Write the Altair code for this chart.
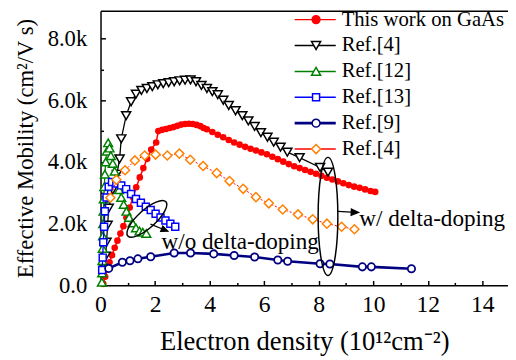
import altair as alt
import pandas as pd

FONT = "Liberation Serif, Times New Roman, Times, serif"

# ---------------- data (x: 10^12 cm^-2, y: cm^2/Vs) ----------------
series_names = ["This work on GaAs", "Ref.[4]", "Ref.[12]", "Ref.[13]", "Ref.[9]", "Ref.[4] "]

red_x = [0.10, 0.17, 0.25, 0.33, 0.42, 0.52, 0.62, 0.73, 0.84, 0.95, 1.07, 1.19, 1.31, 1.44, 1.57, 1.71, 1.86, 2.04,
         2.12, 2.26, 2.40, 2.54, 2.68, 2.82, 2.96, 3.10, 3.24, 3.38, 3.52, 3.66, 3.78,
         3.90, 4.10, 4.30, 4.50, 4.70, 4.90, 5.10, 5.30, 5.50, 5.70, 5.90, 6.10, 6.30, 6.50, 6.70, 6.90,
         7.10, 7.30, 7.50, 7.70, 7.90, 8.10, 8.30, 8.50, 8.70, 8.90, 9.10, 9.30, 9.50, 9.70, 9.90, 10.07]
red_y = [50, 280, 520, 750, 980, 1220, 1450, 1680, 1920, 2200, 2520, 2860, 3180, 3500, 3800, 4100, 4400, 4630,
         5000, 5040, 5070, 5100, 5130, 5170, 5210, 5230, 5240, 5230, 5200, 5160, 5100,
         5060, 4970, 4880, 4800, 4710, 4630, 4560, 4490, 4430, 4370, 4310, 4250, 4170, 4090, 4010, 3930,
         3860, 3800, 3740, 3680, 3620, 3550, 3490, 3430, 3370, 3310, 3250, 3200, 3160, 3110, 3060, 3030]

black_x = [0.15, 0.19, 0.22, 0.26, 0.30, 0.45, 0.60, 0.70, 0.76, 0.94, 1.12, 1.30, 1.50, 1.70, 1.90, 2.10,
           2.30, 2.50, 2.70, 2.90, 3.10, 3.30, 3.50, 3.70, 3.90, 4.10, 4.30, 4.50, 4.70, 4.95, 5.20, 5.42,
           5.65, 5.88, 6.12, 6.35, 6.60, 6.85, 7.30, 8.05, 8.34]
black_y = [500, 950, 1400, 1950, 2500, 3100, 3600, 4100, 4750, 5500, 5950, 6200, 6320, 6380, 6440, 6500,
           6540, 6570, 6600, 6630, 6650, 6660, 6600, 6480, 6380, 6280, 6180, 6000, 5830, 5660, 5500, 5330,
           5150, 4950, 4800, 4640, 4480, 4320, 4140, 3820, 3670]

green_x = [0.05, 0.06, 0.07, 0.08, 0.09, 0.10, 0.11, 0.12, 0.14, 0.16, 0.19, 0.23, 0.28, 0.33, 0.38, 0.45,
           0.52, 0.60, 0.68, 0.76, 0.85, 0.95, 1.05, 1.17, 1.30, 1.43, 1.55, 1.68]
green_y = [100, 400, 800, 1200, 1600, 2000, 2400, 2800, 3200, 3600, 4000, 4350, 4620, 4450, 4200, 3950,
           3700, 3400, 3100, 2850, 2620, 2400, 2200, 2020, 1860, 1760, 1720, 1680]

blue_x = [0.06, 0.08, 0.10, 0.13, 0.16, 0.22, 0.30, 0.42, 0.58, 0.76, 0.94, 1.12, 1.30, 1.48, 1.66, 1.84,
          2.02, 2.20, 2.38, 2.56, 2.74]
blue_y = [500, 900, 1400, 1900, 2400, 2850, 3200, 3350, 3300, 3240, 3120, 2960, 2800, 2680, 2550, 2440,
          2320, 2200, 2100, 2000, 1900]

navy_x = [0.30, 0.80, 1.08, 1.37, 1.84, 2.70, 3.30, 4.15, 4.90, 5.65, 6.50, 6.86, 8.05, 8.41, 9.60, 9.93, 11.40]
navy_y = [550, 750, 800, 860, 930, 1050, 1050, 1020, 970, 920, 820, 780, 700, 690, 600, 600, 540]

orange_x = [0.36, 0.58, 0.90, 1.26, 1.62, 2.02, 2.45, 2.89, 3.29, 3.76, 4.26, 4.73, 5.23, 5.70, 6.17, 6.68,
            7.24, 7.78, 8.30, 8.84, 9.31]
orange_y = [2840, 3420, 3730, 4050, 4210, 4240, 4210, 4270, 4070, 3870, 3640, 3380, 3130, 2860, 2660, 2460,
            2300, 2140, 2000, 1900, 1820]

x_major = [0, 2, 4, 6, 8, 10, 12, 14]
x_minor = [1, 3, 5, 7, 9, 11, 13]
y_major = [0, 2000, 4000, 6000, 8000]
y_minor = [1000, 3000, 5000, 7000]

# annotations (data coordinates)
ellipse_x = [1.70, 8.34]
ellipse_y = [2155, 2234]
arrow_x = [2.15, 9.08]
arrow_y = [1870, 2378]
note_text = ["w/o delta-doping", "w/ delta-doping"]
note_x = [2.24, 9.49]
note_y = [1400, 2160]

# ---------------- styling ----------------
W, H = 414, 279
RED, BLACK, GREEN, BLUE, NAVY, ORANGE = "#FF0000", "#000000", "#008000", "#0000FF", "#000080", "#FF8000"


def ell(rx, ry):
    k = 0.5523
    return (f"M{rx},0C{rx},{k*ry:.4f} {k*rx:.4f},{ry} 0,{ry}"
            f"C{-k*rx:.4f},{ry} {-rx},{k*ry:.4f} {-rx},0"
            f"C{-rx},{-k*ry:.4f} {-k*rx:.4f},{-ry} 0,{-ry}"
            f"C{k*rx:.4f},{-ry} {rx},{-k*ry:.4f} {rx},0Z")


xscale = alt.Scale(domain=[0, 14.94], nice=False, zero=False)
yscale = alt.Scale(domain=[0, 8900], nice=False, zero=False)

ax_x_bottom = alt.Axis(orient="bottom", values=x_major, format="d",
                       title="Electron density (10¹²cm⁻²)",
                       labelFont=FONT, labelFontSize=24, labelColor="black", labelPadding=8,
                       labelFlush=False, labelOverlap=False, ticks=False, tickSize=0,
                       domain=True, domainColor="black", domainWidth=1.5, grid=False,
                       titleFont=FONT, titleFontSize=27, titleFontWeight="normal", titleColor="black",
                       titleBaseline="alphabetic", titleY=65)
ax_x_major = alt.Axis(orient="top", offset=-H, values=x_major, labels=False, domain=False,
                      ticks=True, tickSize=5, tickWidth=1.5, tickColor="black", grid=False, title=None)
ax_x_minor = alt.Axis(orient="top", offset=-H, values=x_minor, labels=False, domain=False,
                      ticks=True, tickSize=3, tickWidth=1.5, tickColor="black", grid=False, title=None)
ax_x_frame = alt.Axis(orient="top", labels=False, ticks=False, domain=True, domainColor="black",
                      domainWidth=1.5, grid=False, title=None)

ax_y_left = alt.Axis(orient="left", values=y_major,
                     labelExpr="datum.value == 0 ? '0.0' : format(datum.value / 1000, '.1f') + 'k'",
                     labelFont=FONT, labelFontSize=23, labelColor="black", labelPadding=14,
                     labelFlush=False, labelOverlap=False, ticks=False, tickSize=0,
                     domain=True, domainColor="black", domainWidth=1.5, grid=False,
                     title="Effective Mobility (cm²/V s)", titleFont=FONT, titleFontSize=23,
                     titleFontWeight="normal", titleColor="black", titleAngle=270,
                     titleBaseline="alphabetic", titleAlign="center", titleX=-69, titleY=H / 2)
ax_y_major = alt.Axis(orient="right", offset=-W, values=y_major, labels=False, domain=False,
                      ticks=True, tickSize=5, tickWidth=1.5, tickColor="black", grid=False, title=None)
ax_y_minor = alt.Axis(orient="right", offset=-W, values=y_minor, labels=False, domain=False,
                      ticks=True, tickSize=3, tickWidth=1.5, tickColor="black", grid=False, title=None)


def pos(ch, xaxis=None, yaxis=None):
    return ch.encode(x=alt.X("x:Q", scale=xscale, axis=xaxis),
                     y=alt.Y("y:Q", scale=yscale, axis=yaxis))


def frame(xs, ys):
    return pd.DataFrame({"x": xs, "y": ys})


red_df = frame(red_x, red_y)
black_df = frame(black_x, black_y)
green_df = frame(green_x, green_y)
blue_df = frame(blue_x, blue_y)
navy_df = frame(navy_x, navy_y)
orange_df = frame(orange_x, orange_y)

layers = [
    pos(alt.Chart(red_df).mark_line(color=RED, strokeWidth=1.5), ax_x_bottom, ax_y_left),
    pos(alt.Chart(red_df).mark_point(shape="circle", size=45, filled=True, color=RED, opacity=1),
        ax_x_major, ax_y_major),
    pos(alt.Chart(black_df).mark_line(color=BLACK, strokeWidth=1.3), ax_x_minor, ax_y_minor),
    pos(alt.Chart(black_df).mark_point(shape="triangle-down", size=85, filled=True, fill="white",
                                       stroke=BLACK, strokeWidth=1.5, opacity=1), ax_x_frame),
    pos(alt.Chart(green_df).mark_line(color=GREEN, strokeWidth=1.3)),
    pos(alt.Chart(green_df).mark_point(shape="triangle-up", size=80, filled=True, fill="white",
                                       stroke=GREEN, strokeWidth=1.5, opacity=1)),
    pos(alt.Chart(blue_df).mark_line(color=BLUE, strokeWidth=1.3)),
    pos(alt.Chart(blue_df).mark_point(shape="square", size=50, filled=True, fill="white",
                                      stroke=BLUE, strokeWidth=1.5, opacity=1)),
    pos(alt.Chart(navy_df).mark_line(color=NAVY, strokeWidth=2.6)),
    pos(alt.Chart(navy_df).mark_point(shape="circle", size=55, filled=True, fill="white",
                                      stroke=NAVY, strokeWidth=1.8, opacity=1)),
    pos(alt.Chart(orange_df).mark_line(color=RED, strokeWidth=1, strokeDash=[2, 2])),
    pos(alt.Chart(orange_df).mark_point(shape="diamond", size=85, filled=True, fill="white",
                                        stroke=ORANGE, strokeWidth=1.5, opacity=1)),
]

# annotations: ellipses, arrows, texts
ell_shapes = [ell(1, 0.35), ell(1, 0.167)]
ell_sizes = [2704, 14400]
ell_angles = [318, 90]
for i in range(2):
    layers.append(pos(alt.Chart(frame([ellipse_x[i]], [ellipse_y[i]])).mark_point(
        shape=ell_shapes[i], size=ell_sizes[i], angle=ell_angles[i], filled=False,
        stroke="black", strokeWidth=1.5, opacity=1)))

arrow_path = "M-1,0L0.3,0M0.3,-0.3L1,0L0.3,0.3Z"
arrow_sizes = [361, 441]
arrow_angles = [22, 3]
for i in range(2):
    layers.append(pos(alt.Chart(frame([arrow_x[i]], [arrow_y[i]])).mark_point(
        shape=arrow_path, size=arrow_sizes[i], angle=arrow_angles[i], filled=True,
        fill="black", stroke="black", strokeWidth=1.3, opacity=1)))

notes_df = pd.DataFrame({"x": note_x, "y": note_y, "t": note_text})
layers.append(pos(alt.Chart(notes_df).mark_text(align="left", baseline="middle", font=FONT,
                                                fontSize=23.5, color="black")).encode(text="t:N"))

# legend (built by Vega legends from scales; the legend layers draw no marks)
legend_df = pd.DataFrame({"s": series_names})
line_paths = ["M-1,-0.036H1V0.036H-1Z"] * 4 + ["M-1,-0.068H1V0.068H-1Z", "M-1,-0.036H1V0.036H-1Z"]
line_colors = [RED, BLACK, GREEN, BLUE, NAVY, RED]
marker_paths = [
    ell(0.19, 0.19),
    "M-0.22,-0.19L0.22,-0.19L0,0.19Z",
    "M-0.22,0.19L0.22,0.19L0,-0.19Z",
    "M-0.17,-0.17H0.17V0.17H-0.17Z",
    ell(0.19, 0.19),
    "M0,-0.22L0.22,0L0,0.22L-0.22,0Z",
]
marker_strokes = [RED, BLACK, GREEN, BLUE, NAVY, ORANGE]
marker_fills = [RED, "white", "white", "white", "white", "white"]

leg_common = dict(orient="none", legendX=197, legendY=-2, title=None, labelFont=FONT,
                  labelFontSize=21, labelColor="black", labelLimit=400, symbolSize=1764,
                  clipHeight=22, rowPadding=4.3, padding=0, labelOffset=4, symbolOffset=0)
lines_leg = alt.Legend(labelExpr="''", symbolStrokeWidth=0, **leg_common)
marks_leg = alt.Legend(symbolStrokeWidth=1.5, **leg_common)

legend_lines = alt.Chart(legend_df).transform_filter("false").mark_point(
    filled=True, opacity=1, strokeWidth=0).encode(
    shape=alt.Shape("s:N", scale=alt.Scale(domain=series_names, range=line_paths), legend=lines_leg),
    fill=alt.Fill("s:N", scale=alt.Scale(domain=series_names, range=line_colors), legend=lines_leg),
)
legend_marks = alt.Chart(legend_df).transform_filter("false").mark_point(
    filled=True, opacity=1, strokeWidth=1.5).encode(
    shape=alt.Shape("s:N", scale=alt.Scale(domain=series_names, range=marker_paths), legend=marks_leg),
    stroke=alt.Stroke("s:N", scale=alt.Scale(domain=series_names, range=marker_strokes), legend=marks_leg),
    fill=alt.Fill("s:N", scale=alt.Scale(domain=series_names, range=marker_fills), legend=marks_leg),
)
layers += [legend_lines, legend_marks]

chart = alt.layer(*layers).resolve_axis(x="independent", y="independent").resolve_scale(
    shape="independent", fill="independent", stroke="independent"
).properties(
    width=W, height=H,
    autosize=alt.AutoSizeParams(type="none"),
    padding={"left": 94, "top": 0, "right": 0, "bottom": 72},
    background="white",
).configure_view(strokeWidth=0)

chart.save("out.html", embed_options={"renderer": "svg", "actions": False})
